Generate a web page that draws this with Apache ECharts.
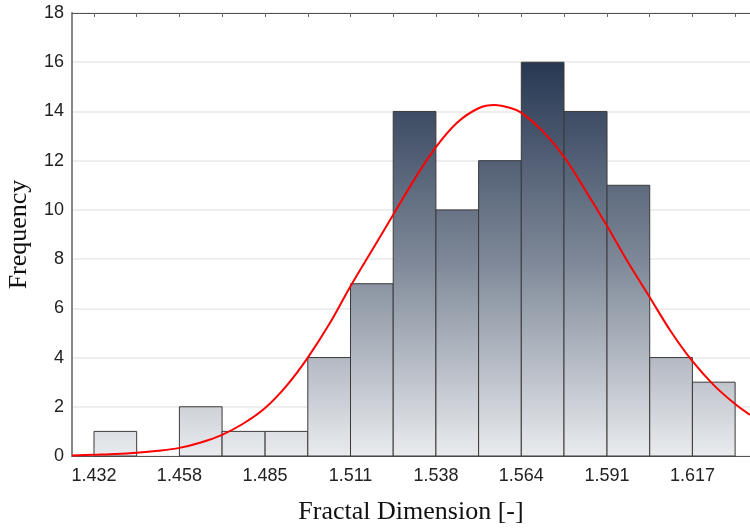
<!DOCTYPE html>
<html>
<head>
<meta charset="utf-8">
<script src="https://cdn.jsdelivr.net/npm/echarts@6/dist/echarts.min.js"></script>
<style>
  html, body { margin: 0; padding: 0; background: #fff; }
  #chart { width: 750px; height: 530px; }
</style>
</head>
<body>
<div id="chart"></div>
<script>
// Histogram bin edges (fractal dimension) and counts per bin
const binEdges = [1.4320, 1.4452, 1.4584, 1.4716, 1.4849, 1.4981, 1.5113, 1.5245,
                  1.5377, 1.5509, 1.5641, 1.5773, 1.5906, 1.6038, 1.6170, 1.6302];
const counts = [1, 0, 2, 1, 1, 4, 7, 14, 10, 12, 16, 14, 11, 4, 3];

// Labelled ticks on the x axis (every second bin edge)
const xTickLabels = ['1.432', '1.458', '1.485', '1.511', '1.538', '1.564', '1.591', '1.617'];

// Fitted normal curve, sampled points (x, expected frequency)
const curveX = [1.4252, 1.4320, 1.4386, 1.4452, 1.4518, 1.4584, 1.4650, 1.4716, 1.4782,
                1.4849, 1.4915, 1.4981, 1.5047, 1.5113, 1.5179, 1.5245, 1.5311, 1.5377,
                1.5443, 1.5509, 1.5558, 1.5608, 1.5641, 1.5707, 1.5773, 1.5839, 1.5906, 1.5972,
                1.6038, 1.6104, 1.6170, 1.6236, 1.6302, 1.6348];
const curveY = [0.02, 0.05, 0.08, 0.13, 0.21, 0.33, 0.55, 0.86, 1.32,
                1.95, 2.85, 4.00, 5.35, 6.90, 8.35, 9.80, 11.25, 12.55,
                13.55, 14.13, 14.26, 14.14, 13.95, 13.20, 12.16, 10.80, 9.35, 7.85,
                6.45, 5.05, 3.85, 2.88, 2.11, 1.67];

const xMin = 1.4252, xMax = 1.6348;
const labelValues = binEdges.filter((_, i) => i % 2 === 0);

const chart = echarts.init(document.getElementById('chart'), null, { renderer: 'canvas' });

const axisFont = 'Liberation Sans, Arial, sans-serif';
const titleFont = 'Liberation Serif, Times New Roman, serif';

chart.setOption({
  animation: false,
  backgroundColor: '#ffffff',
  grid: { left: 72, right: 0, top: 13, bottom: 74, containLabel: false, outerBoundsMode: 'none' },
  xAxis: [
    {
      type: 'value',
      position: 'bottom',
      min: xMin,
      max: xMax,
      axisLine: { show: true, lineStyle: { color: '#555', width: 1 } },
      axisTick: { show: false },
      splitLine: { show: false },
      axisLabel: {
        customValues: labelValues,
        formatter: (v) => {
          const i = labelValues.indexOf(v);
          return i >= 0 ? xTickLabels[i] : '';
        },
        fontFamily: axisFont,
        fontSize: 18,
        color: '#222',
        margin: 11
      },
      name: 'Fractal Dimension [-]',
      nameLocation: 'middle',
      nameGap: 43,
      nameTextStyle: { fontFamily: titleFont, fontSize: 26, color: '#111' }
    },
    {
      type: 'value',
      position: 'top',
      min: xMin,
      max: xMax,
      axisLine: { show: true, lineStyle: { color: '#555', width: 1 } },
      axisTick: {
        show: true,
        inside: true,
        length: 4,
        customValues: binEdges,
        lineStyle: { color: '#666' }
      },
      axisLabel: { show: false },
      splitLine: { show: false }
    }
  ],
  yAxis: {
    type: 'value',
    min: 0,
    max: 18,
    interval: 2,
    axisLine: { show: true, lineStyle: { color: '#888', width: 2 } },
    axisTick: { show: false },
    splitLine: { show: true, lineStyle: { color: '#e8e8e8', width: 1.5 } },
    axisLabel: { fontFamily: axisFont, fontSize: 18, color: '#222', margin: 8 },
    name: 'Frequency',
    nameLocation: 'middle',
    nameGap: 40,
    nameTextStyle: { fontFamily: titleFont, fontSize: 26, color: '#111' }
  },
  series: [
    {
      type: 'custom',
      xAxisIndex: 0,
      data: counts.map((c, i) => [binEdges[i], binEdges[i + 1], c]),
      renderItem: (params, api) => {
        const lo = api.value(0), hi = api.value(1), v = api.value(2);
        if (!v) return null;
        const p0 = api.coord([lo, 0]);
        const p1 = api.coord([hi, v]);
        const gTop = api.coord([lo, 16])[1];
        const gBottom = p0[1];
        return {
          type: 'rect',
          shape: { x: p0[0], y: p1[1], width: p1[0] - p0[0], height: p0[1] - p1[1] },
          style: {
            fill: new echarts.graphic.LinearGradient(0, gTop, 0, gBottom, [
              { offset: 0, color: '#283853' },
              { offset: 0.5, color: '#7d8797' },
              { offset: 1, color: '#e9ebee' }
            ], true),
            stroke: '#3a3a3a',
            lineWidth: 1
          }
        };
      },
      z: 2
    },
    {
      type: 'line',
      xAxisIndex: 0,
      data: curveX.map((x, i) => [x, curveY[i]]),
      smooth: 0.35,
      showSymbol: false,
      lineStyle: { color: '#ff0000', width: 2 },
      z: 3
    }
  ]
});
</script>
</body>
</html>
